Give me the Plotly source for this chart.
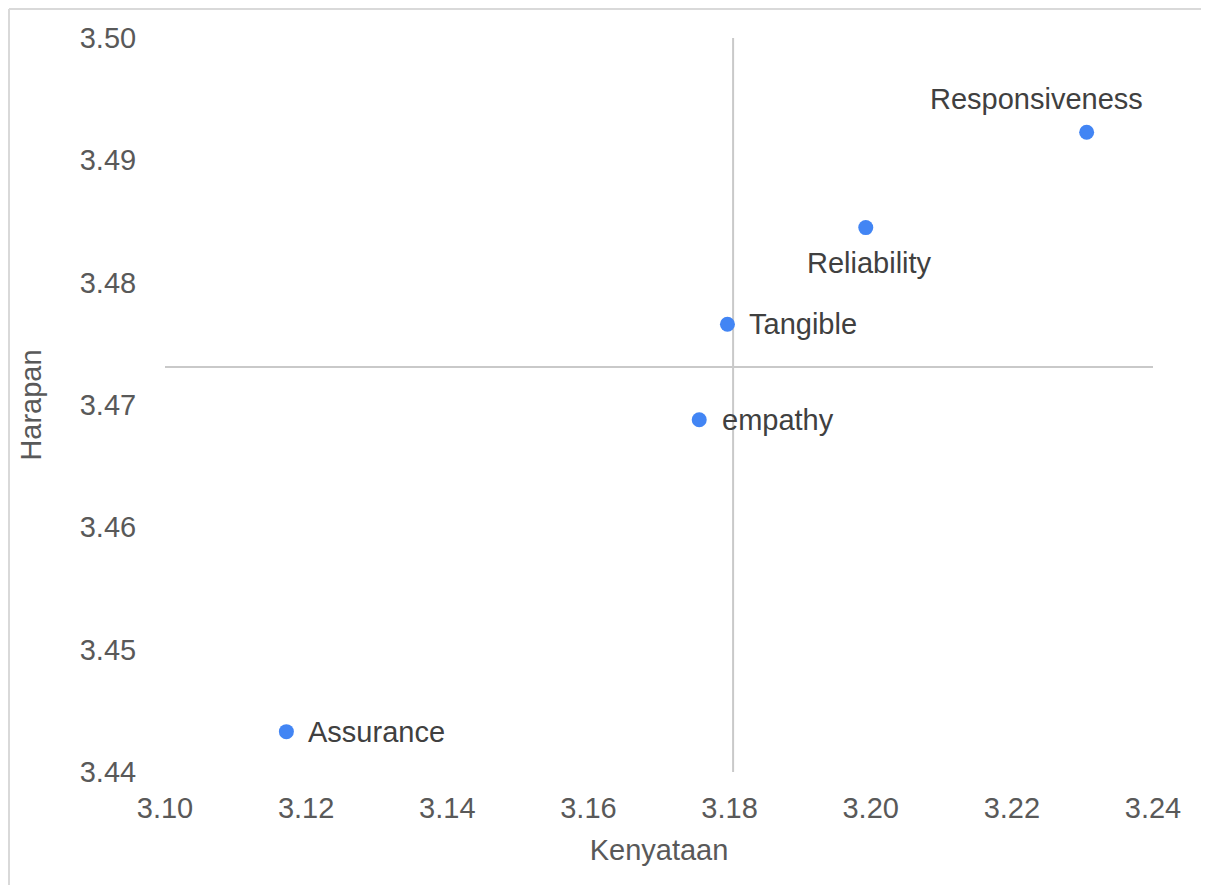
import plotly.graph_objects as go

# Data
labels = ["Responsiveness", "Reliability", "Tangible", "empathy", "Assurance"]
kenyataan = [3.2306, 3.1993, 3.1797, 3.1757, 3.1172]
harapan = [3.4923, 3.4845, 3.4766, 3.4688, 3.4433]

x_range = [3.10, 3.24]
y_range = [3.44, 3.50]
x_ticks = [3.10, 3.12, 3.14, 3.16, 3.18, 3.20, 3.22, 3.24]
y_ticks = [3.44, 3.45, 3.46, 3.47, 3.48, 3.49, 3.50]

# label placement (style)
label_style = {
    "Responsiveness": dict(xanchor="center", yanchor="middle", xshift=-50, yshift=33),
    "Reliability": dict(xanchor="center", yanchor="middle", xshift=4, yshift=-35),
    "Tangible": dict(xanchor="left", yanchor="middle", xshift=20, yshift=0),
    "empathy": dict(xanchor="left", yanchor="middle", xshift=21, yshift=0),
    "Assurance": dict(xanchor="left", yanchor="middle", xshift=20, yshift=0),
}

mean_x = sum(kenyataan) / len(kenyataan)
mean_y = sum(harapan) / len(harapan)

FONT = "Liberation Sans, Arial, sans-serif"
TICK_COLOR = "#595959"
LABEL_COLOR = "#404040"
LINE_COLOR = "#c9c9c9"
FS = 29

fig = go.Figure()

# quadrant lines
fig.add_trace(go.Scatter(x=[mean_x, mean_x], y=y_range, mode="lines",
                         line=dict(color=LINE_COLOR, width=2), hoverinfo="skip", showlegend=False))
fig.add_trace(go.Scatter(x=x_range, y=[mean_y, mean_y], mode="lines",
                         line=dict(color=LINE_COLOR, width=2), hoverinfo="skip", showlegend=False))

# points
fig.add_trace(go.Scatter(x=kenyataan, y=harapan, mode="markers", text=labels,
                         marker=dict(color="#4285F4", size=15), showlegend=False,
                         cliponaxis=False))

annotations = []
for lab, xv, yv in zip(labels, kenyataan, harapan):
    st = label_style[lab]
    annotations.append(dict(x=xv, y=yv, xref="x", yref="y", text=lab, showarrow=False,
                            font=dict(family=FONT, size=FS, color=LABEL_COLOR), **st))

# page has an 8px body margin on each side; keep the figure inside the window
W, H = 1193, 877
L, T = 157, 30
pw, ph = 988, 734
R, B = W - L - pw, H - T - ph

def px2paper_x(px):
    return (px - L) / pw

def px2paper_y(py):
    return (H - B - py) / ph

border = dict(color="#d9d9d9", width=2)
fig.update_layout(
    width=W, height=H,
    margin=dict(l=L, r=R, t=T, b=B),
    paper_bgcolor="white", plot_bgcolor="white",
    font=dict(family=FONT, size=FS, color=TICK_COLOR),
    annotations=annotations,
    shapes=[
        dict(type="line", xref="paper", yref="paper",
             x0=px2paper_x(1), x1=px2paper_x(W + 20),
             y0=px2paper_y(1), y1=px2paper_y(1), line=border, layer="below"),
        dict(type="line", xref="paper", yref="paper",
             x0=px2paper_x(1), x1=px2paper_x(1),
             y0=px2paper_y(1), y1=px2paper_y(H + 20), line=border, layer="below"),
    ],
    xaxis=dict(range=x_range, tickvals=x_ticks, tickformat=".2f", showgrid=False, zeroline=False,
               showline=False, ticks="outside", ticklen=10, tickcolor="rgba(0,0,0,0)",
               tickfont=dict(family=FONT, size=FS, color=TICK_COLOR),
               title=dict(text="Kenyataan", font=dict(family=FONT, size=FS, color=TICK_COLOR), standoff=16)),
    yaxis=dict(range=y_range, tickvals=y_ticks, tickformat=".2f", showgrid=False, zeroline=False,
               showline=False, ticks="outside", ticklen=22, tickcolor="rgba(0,0,0,0)",
               tickfont=dict(family=FONT, size=FS, color=TICK_COLOR),
               title=dict(text="Harapan", font=dict(family=FONT, size=FS, color=TICK_COLOR), standoff=29)),
)

fig.write_html("out.html")
